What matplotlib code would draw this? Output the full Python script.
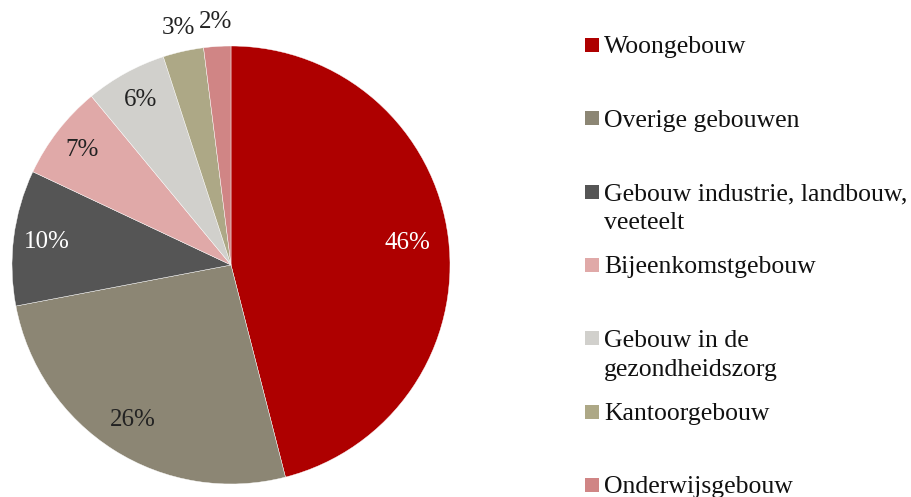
import numpy as np
import matplotlib.pyplot as plt
from matplotlib.patches import Rectangle

categories = ["Woongebouw", "Overige gebouwen", "Gebouw industrie, landbouw,\nveeteelt",
              "Bijeenkomstgebouw", "Gebouw in de\ngezondheidszorg", "Kantoorgebouw",
              "Onderwijsgebouw"]
shares = [46, 26, 10, 7, 6, 3, 2]
colors = ["#AE0000", "#8C8674", "#555555", "#E0A9A8", "#D1D0CC", "#ADA886", "#D08585"]
label_colors = ["white", "#222222", "white", "#222222", "#222222", "#222222", "#222222"]
label_dist = [0.81, 0.84, 0.85, 0.86, 0.86, 1.11, 1.11]

plt.rcParams['font.family'] = ['Liberation Serif', 'DejaVu Serif']

W, H = 911, 497
fig = plt.figure(figsize=(W / 100, H / 100), dpi=100)

# pie centre (231, 265) px, radius 219 px
cx, cy, r = 231, 265, 219
ax = fig.add_axes([(cx - r) / W, 1 - (cy + r) / H, 2 * r / W, 2 * r / H])
wedges, texts, autotexts = ax.pie(shares, colors=colors, startangle=90, counterclock=False,
                                  autopct='%d%%', pctdistance=1.0, radius=1.0,
                                  wedgeprops=dict(edgecolor='white', linewidth=0.3),
                                  textprops=dict(fontsize=18))
for t, d, c in zip(autotexts, label_dist, label_colors):
    x, y = t.get_position()
    t.set_position((x * d, y * d))
    t.set_color(c)
ax.set_xlim(-1, 1)
ax.set_ylim(-1, 1)
ax.set_aspect('equal')
ax.axis('off')

# legend drawn by hand, square aligned with first line
y0, step, line_h = 45, 73.3, 29
for i, (lab, col) in enumerate(zip(categories, colors)):
    y = y0 + i * step
    fig.patches.append(Rectangle((585 / W, 1 - (y + 7) / H), 14 / W, 14 / H,
                                 transform=fig.transFigure, facecolor=col,
                                 edgecolor='none'))
    for j, line in enumerate(lab.split("\n")):
        fig.text(604 / W, 1 - (y + j * line_h) / H, line, fontsize=18.5,
                 va='center_baseline', ha='left', color='#111111')

plt.savefig("out.png", dpi=100)
